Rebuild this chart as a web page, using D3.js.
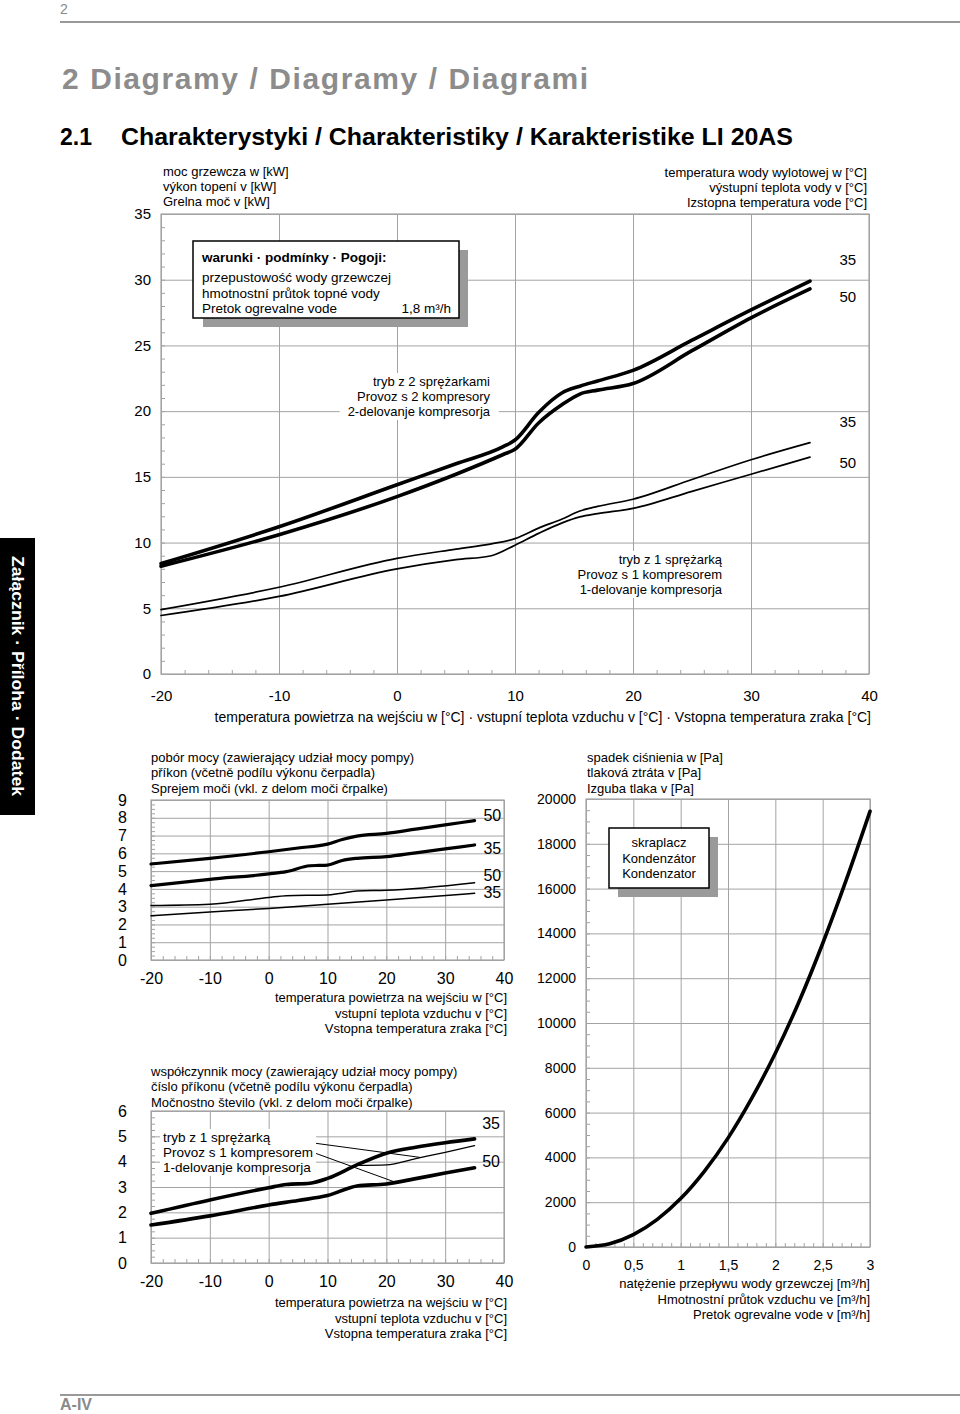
<!DOCTYPE html>
<html>
<head>
<meta charset="utf-8">
<script src="https://cdn.jsdelivr.net/npm/d3@7"></script>
<style>
body { margin:0; background:#fff; }
svg { display:block; font-family:"Liberation Sans", Arial, sans-serif; }
.grid line { stroke:#a3a3a3; stroke-width:1; }
.grid path { display:none; }
.minor line { stroke:#a3a3a3; stroke-width:1; }
.minor path { display:none; }
.lbl path, .lbl line { display:none; }
.lbl text { fill:#000; font-family:"Liberation Sans", Arial, sans-serif; }
</style>
</head>
<body>
<svg id="page" width="960" height="1414"></svg>
<script>
// --- heating capacity [kW] vs. air inlet temp [C] ---
var heat2c35 = [[-20,8.4],[-10,11.2],[0,14.4],[5,16.0],[9,17.3],[10,17.8],[12,19.9],[14,21.4],[15.5,21.9],[17,22.3],[20,23.1],[25,25.4],[30,27.7],[35,29.9]];
var heat2c50 = [[-20,8.2],[-10,10.6],[0,13.5],[5,15.2],[9,16.7],[10,17.1],[12,19.1],[14,20.5],[15.5,21.3],[17,21.6],[20,22.1],[25,24.6],[30,27.1],[35,29.3]];
var heat1c35 = [[-20,4.9],[-10,6.6],[0,8.8],[5,9.5],[8,9.9],[10,10.3],[12,11.1],[14,11.8],[15.5,12.4],[17,12.75],[20,13.3],[25,14.8],[30,16.3],[35,17.6]];
var heat1c50 = [[-20,4.45],[-10,5.9],[0,8.0],[5,8.7],[8,9.0],[10,9.8],[12,10.7],[14,11.5],[15.5,11.95],[17,12.2],[20,12.6],[25,13.9],[30,15.2],[35,16.5]];

// --- power input [kW] ---
var power2c50 = [[-20,5.4],[-10,5.72],[0,6.09],[5,6.3],[10,6.52],[12.5,6.78],[15,6.97],[20,7.12],[25,7.36],[30,7.6],[35,7.84]];
var power2c35 = [[-20,4.18],[-10,4.54],[0,4.84],[3,4.97],[7,5.3],[8.5,5.32],[10,5.34],[12.5,5.6],[15,5.72],[20,5.81],[25,6.03],[30,6.25],[35,6.47]];
var power1c50 = [[-20,3.06],[-10,3.13],[0,3.52],[3,3.62],[10,3.66],[12,3.74],[15,3.88],[20,3.92],[35,4.35]];
var power1c35 = [[-20,2.49],[-10,2.7],[0,2.9],[10,3.13],[20,3.37],[35,3.75]];

// --- COP ---
var cop2c35 = [[-20,1.96],[-10,2.49],[0,2.97],[3,3.1],[7,3.15],[10,3.34],[15,3.87],[20,4.33],[25,4.57],[30,4.75],[35,4.9]];
var cop2c50 = [[-20,1.5],[-10,1.86],[0,2.29],[5,2.47],[10,2.66],[15,3.04],[20,3.12],[25,3.33],[30,3.55],[35,3.76]];
var cop1c35 = [[15,3.85],[20,3.87],[25,4.12],[30,4.37],[35,4.63]];
var copPointer = [[0.5,4.96],[25.7,4.17],[21.4,3.2]];

// --- condenser pressure drop [Pa] vs. flow [m3/h] ---
var flow = [0,0.25,0.5,0.75,1,1.25,1.5,1.75,2,2.25,2.5,2.75,3];
var pressureDrop = [0,140,550,1220,2160,3380,4860,6630,8650,10950,13550,16400,19450];

// tick labels
var airTicks = [-20,-10,0,10,20,30,40];
var heatTicks = [0,5,10,15,20,25,30,35];
var powerTicks = [0,1,2,3,4,5,6,7,8,9];
var copTicks = [0,1,2,3,4,5,6];
var flowTicks = [0,0.5,1,1.5,2,2.5,3];
var paTicks = [0,2000,4000,6000,8000,10000,12000,14000,16000,18000,20000];

var svg = d3.select("#page");
var comma = function(d) { return String(d).replace(".", ","); };

function panel(o) {
  var x = d3.scaleLinear().domain(o.xDomain).range([o.left, o.right]);
  var y = d3.scaleLinear().domain(o.yDomain).range([o.bottom, o.top]);
  var w = o.right - o.left, h = o.bottom - o.top;
  var g = svg.append("g");

  g.append("g").attr("class", "minor").attr("transform", "translate(0," + o.bottom + ")")
    .call(d3.axisBottom(x).tickValues(o.xMinor).tickSize(-4).tickFormat(""));
  g.append("g").attr("class", "minor").attr("transform", "translate(" + o.left + ",0)")
    .call(d3.axisLeft(y).tickValues(o.yMinor).tickSize(-4).tickFormat(""));
  g.append("g").attr("class", "grid").attr("transform", "translate(0," + o.bottom + ")")
    .call(d3.axisBottom(x).tickValues(o.xTicks).tickSize(-h).tickFormat(""));
  g.append("g").attr("class", "grid").attr("transform", "translate(" + o.left + ",0)")
    .call(d3.axisLeft(y).tickValues(o.yTicks).tickSize(-w).tickFormat(""));
  g.append("rect").attr("x", o.left).attr("y", o.top).attr("width", w).attr("height", h)
    .attr("fill", "none").attr("stroke", "#a3a3a3").attr("stroke-width", 1.2);

  g.append("g").attr("class", "lbl").attr("transform", "translate(0," + o.bottom + ")")
    .call(d3.axisBottom(x).tickValues(o.xTicks).tickSize(0).tickPadding(o.xPad).tickFormat(comma))
    .selectAll("text").style("font-size", o.xFont + "px");
  g.append("g").attr("class", "lbl").attr("transform", "translate(" + o.left + ",0)")
    .call(d3.axisLeft(y).tickValues(o.yTicks).tickSize(0).tickPadding(o.yPad).tickFormat(comma))
    .selectAll("text").style("font-size", o.yFont + "px");
  return {x: x, y: y, g: g};
}

function textBlock(lines, x, y0, step, size, anchor, opts) {
  opts = opts || {};
  var t = svg.append("g");
  lines.forEach(function(s, i) {
    t.append("text").attr("x", x).attr("y", y0 + i * step)
      .attr("text-anchor", anchor).style("font-size", size + "px")
      .style("font-weight", opts.bold ? "bold" : "normal")
      .attr("fill", opts.fill || "#000").text(s);
  });
  return t;
}

function whiteBehind(block, pad) {
  var b = block.node().getBBox();
  block.insert("rect", ":first-child").attr("x", b.x - pad).attr("y", b.y - 1)
    .attr("width", b.width + 2 * pad).attr("height", b.height + 2).attr("fill", "#fff");
}

function curve(p, data, width) {
  var line = d3.line().x(function(d) { return p.x(d[0]); }).y(function(d) { return p.y(d[1]); })
    .curve(d3.curveMonotoneX);
  p.g.append("path").datum(data).attr("d", line)
    .attr("fill", "none").attr("stroke", "#000").attr("stroke-width", width)
    .attr("stroke-linecap", "round").attr("stroke-linejoin", "round");
}

// ---------- page header / footer ----------
svg.append("text").attr("x", 60).attr("y", 14).style("font-size", "14px").attr("fill", "#8a8a8a").text("2");
svg.append("line").attr("x1", 60).attr("x2", 960).attr("y1", 22).attr("y2", 22).attr("stroke", "#999").attr("stroke-width", 2);
svg.append("text").attr("x", 62).attr("y", 89).style("font-size", "30px").style("font-weight", "bold")
  .attr("fill", "#8c8c8c").attr("textLength", 526).attr("lengthAdjust", "spacing")
  .text("2  Diagramy / Diagramy / Diagrami");
svg.append("text").attr("x", 60).attr("y", 145).style("font-size", "23px").style("font-weight", "bold")
  .style("font-family", "'Liberation Sans Narrow', 'Liberation Sans', Arial").text("2.1");
svg.append("text").attr("x", 121).attr("y", 145).style("font-size", "24px").style("font-weight", "bold")
  .style("font-family", "'Liberation Sans Narrow', 'Liberation Sans', Arial")
  .attr("textLength", 672).attr("lengthAdjust", "spacingAndGlyphs")
  .text("Charakterystyki / Charakteristiky / Karakteristike LI 20AS");
svg.append("line").attr("x1", 60).attr("x2", 960).attr("y1", 1395).attr("y2", 1395).attr("stroke", "#999").attr("stroke-width", 2);
svg.append("text").attr("x", 60).attr("y", 1410).style("font-size", "16px").style("font-weight", "bold")
  .attr("fill", "#8a8a8a").text("A-IV");

// side tab
svg.append("rect").attr("x", 0).attr("y", 538).attr("width", 35).attr("height", 277).attr("fill", "#000");
svg.append("text").attr("transform", "translate(12,676) rotate(90)").attr("text-anchor", "middle")
  .style("font-size", "16px").style("font-weight", "bold").attr("fill", "#fff")
  .attr("textLength", 240).attr("lengthAdjust", "spacingAndGlyphs")
  .text("Załącznik · Příloha · Dodatek");

// ---------- heating capacity chart ----------
var heat = panel({left: 161, right: 869, top: 214, bottom: 674,
  xDomain: [-20, 40], yDomain: [0, 35],
  xTicks: airTicks, yTicks: heatTicks,
  xMinor: d3.range(-20, 41, 2), yMinor: d3.range(0, 36, 1),
  xPad: 16, yPad: 10, xFont: 15, yFont: 15});

var lbl2 = textBlock(["tryb z 2 sprężarkami", "Provoz s 2 kompresory", "2-delovanje kompresorja"], 490, 386, 15, 13, "end");
whiteBehind(lbl2, 8);
var lbl1 = textBlock(["tryb z 1 sprężarką", "Provoz s 1 kompresorem", "1-delovanje kompresorja"], 722, 564, 15, 13, "end");
whiteBehind(lbl1, 6);

curve(heat, heat2c35, 3.6);
curve(heat, heat2c50, 3.6);
curve(heat, heat1c35, 1.7);
curve(heat, heat1c50, 1.7);

[["35", 31.5], ["50", 28.7], ["35", 19.2], ["50", 16.05]].forEach(function(d) {
  heat.g.append("text").attr("x", heat.x(38.2)).attr("y", heat.y(d[1])).attr("dy", "0.35em")
    .attr("text-anchor", "middle").style("font-size", "15px").text(d[0]);
});

textBlock(["moc grzewcza w [kW]", "výkon topení v [kW]", "Grelna moč v [kW]"], 163, 176, 15, 13, "start");
textBlock(["temperatura wody wylotowej w [°C]", "výstupní teplota vody v [°C]", "Izstopna temperatura vode [°C]"], 867, 177, 15, 13, "end");
textBlock(["temperatura powietrza na wejściu w [°C] · vstupní teplota vzduchu v [°C] · Vstopna temperatura zraka [°C]"], 871, 722, 15, 14, "end");

// legend box
svg.append("rect").attr("x", 203).attr("y", 250).attr("width", 265).attr("height", 77).attr("fill", "#9a9a9a");
svg.append("rect").attr("x", 193).attr("y", 241).attr("width", 266).attr("height", 77).attr("fill", "#fff")
  .attr("stroke", "#000").attr("stroke-width", 1.5);
textBlock(["warunki · podmínky · Pogoji:"], 202, 262, 15, 13.5, "start", {bold: true});
textBlock(["przepustowość wody grzewczej", "hmotnostní průtok topné vody", "Pretok ogrevalne vode"], 202, 282, 15.5, 13.5, "start");
textBlock(["1,8 m³/h"], 451, 313, 15, 13.5, "end");

// ---------- power input chart ----------
var pow = panel({left: 151, right: 504, top: 800, bottom: 960,
  xDomain: [-20, 40], yDomain: [0, 9],
  xTicks: airTicks, yTicks: powerTicks,
  xMinor: d3.range(-20, 41, 2), yMinor: d3.range(0, 9.01, 0.25),
  xPad: 13, yPad: 24, xFont: 16, yFont: 16});
curve(pow, power2c50, 3.2);
curve(pow, power2c35, 3.2);
curve(pow, power1c50, 1.5);
curve(pow, power1c35, 1.5);
[["50", 8.15], ["35", 6.3], ["50", 4.75], ["35", 3.8]].forEach(function(d) {
  pow.g.append("text").attr("x", pow.x(36.5)).attr("y", pow.y(d[1])).attr("dy", "0.35em")
    .style("font-size", "16px").text(d[0]);
});
textBlock(["pobór mocy (zawierający udział mocy pompy)", "příkon (včetně  podílu výkonu čerpadla)", "Sprejem moči (vkl. z delom moči črpalke)"], 151, 762, 15.3, 13, "start");
textBlock(["temperatura powietrza na wejściu w [°C]", "vstupní teplota vzduchu v [°C]", "Vstopna temperatura zraka [°C]"], 507, 1002, 15.5, 13, "end");

// ---------- COP chart ----------
var cop = panel({left: 151, right: 504, top: 1111, bottom: 1263,
  xDomain: [-20, 40], yDomain: [0, 6],
  xTicks: airTicks, yTicks: copTicks,
  xMinor: d3.range(-20, 41, 2), yMinor: d3.range(0, 6.01, 0.25),
  xPad: 13, yPad: 24, xFont: 16, yFont: 16});
var lbl3 = textBlock(["tryb z 1 sprężarką", "Provoz s 1 kompresorem", "1-delovanje kompresorja"], 163, 1142, 15, 13.5, "start");
whiteBehind(lbl3, 3);
curve(cop, cop2c35, 3.6);
curve(cop, cop2c50, 3.6);
curve(cop, cop1c35, 1.3);
[copPointer[1], copPointer[2]].forEach(function(d) {
  cop.g.append("line").attr("x1", cop.x(copPointer[0][0])).attr("y1", cop.y(copPointer[0][1]))
    .attr("x2", cop.x(d[0])).attr("y2", cop.y(d[1])).attr("stroke", "#000").attr("stroke-width", 1);
});
[["35", 5.5], ["50", 4.0]].forEach(function(d) {
  cop.g.append("text").attr("x", cop.x(36.3)).attr("y", cop.y(d[1])).attr("dy", "0.35em")
    .style("font-size", "16px").text(d[0]);
});
textBlock(["współczynnik mocy (zawierający udział mocy pompy)", "číslo příkonu (včetně  podílu výkonu čerpadla)", "Močnostno število (vkl. z delom moči črpalke)"], 151, 1076, 15.3, 13, "start");
textBlock(["temperatura powietrza na wejściu w [°C]", "vstupní teplota vzduchu v [°C]", "Vstopna temperatura zraka [°C]"], 507, 1307, 15.5, 13, "end");

// ---------- pressure drop chart ----------
var pa = panel({left: 586, right: 870, top: 799, bottom: 1247,
  xDomain: [0, 3], yDomain: [0, 20000],
  xTicks: flowTicks, yTicks: paTicks,
  xMinor: d3.range(0, 3.01, 0.1), yMinor: d3.range(0, 20001, 500),
  xPad: 13, yPad: 10, xFont: 14, yFont: 14});
curve(pa, flow.map(function(f, i) { return [f, pressureDrop[i]]; }), 3.6);
textBlock(["spadek ciśnienia w [Pa]", "tlaková ztráta v [Pa]", "Izguba tlaka v [Pa]"], 587, 762, 15.3, 13, "start");
svg.append("rect").attr("x", 618).attr("y", 837).attr("width", 100).attr("height", 60).attr("fill", "#9a9a9a");
svg.append("rect").attr("x", 609).attr("y", 828).attr("width", 100).attr("height", 60).attr("fill", "#fff")
  .attr("stroke", "#000").attr("stroke-width", 1.5);
textBlock(["skraplacz", "Kondenzátor", "Kondenzator"], 659, 847, 15.5, 13, "middle");
textBlock(["natężenie przepływu wody grzewczej [m³/h]", "Hmotnostní průtok vzduchu ve [m³/h]", "Pretok ogrevalne vode v [m³/h]"], 870, 1288, 15.5, 13, "end");
</script>
</body>
</html>
